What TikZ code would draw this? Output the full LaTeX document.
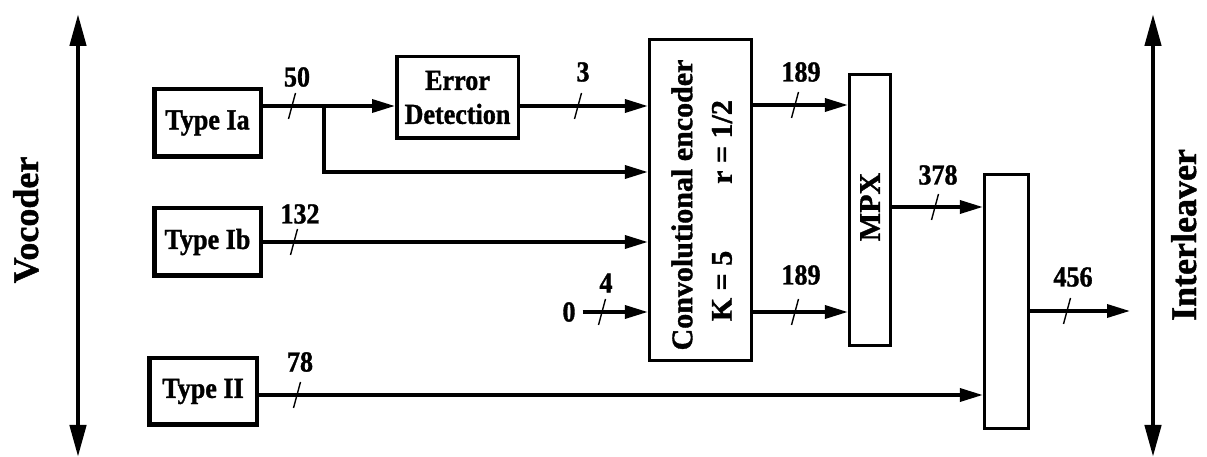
\documentclass[tikz,border=0pt]{standalone}
\usepackage{fontspec}
\setmainfont{Liberation Serif}[FakeStretch=0.9, BoldFeatures={FakeBold=1.2}]
\newfontfamily\rotfont{Liberation Serif}[BoldFeatures={FakeBold=1.2}]
\usetikzlibrary{arrows.meta}
\begin{document}
\begin{tikzpicture}[x=1bp,y=-1bp,
  txt/.style={font=\fontsize{29bp}{34bp}\selectfont\bfseries},
  rtxt/.style={font=\rotfont\fontsize{30bp}{36bp}\selectfont\bfseries, rotate=90, inner sep=0},
  bigtxt/.style={font=\rotfont\fontsize{36bp}{43bp}\selectfont\bfseries, rotate=90, inner sep=0, anchor=base, text depth=0pt},
  typebox/.style={draw, line width=4.5bp, txt, inner sep=0, minimum width=106.5bp, minimum height=67.5bp},
  blk/.style={draw, line width=3.3bp, inner sep=0},
  conn/.style={line width=3.5bp, -{Triangle[length=23bp,width=13bp]}},
  cut/.style={line width=1.4bp},
  num/.style={txt, inner sep=0},
  bus/.style={line width=4.5bp, {Triangle[length=32bp,width=16bp]}-{Triangle[length=32bp,width=16bp]}},
  busmark/.pic={\draw[cut] (-3.5,13) -- (3.5,-13);}
]
\useasboundingbox (0,0) rectangle (1207,457);

% side buses
\coordinate (vt) at (78,14);
\coordinate (vb) at (78,457);
\coordinate (it) at (1153,14);
\coordinate (ib) at (1153,457);
\draw[bus] (vt) -- (vb);
\draw[bus] (it) -- (ib);
\node[bigtxt] (voc) at (38,220) {Vocoder};
\node[bigtxt] (intl) at (1196,235) {Interleaver};

% boxes
\node[typebox] (ia) at (207.5,123) {Type Ia};
\node[typebox] (ib1) at (207.5,242) {Type Ib};
\node[typebox, minimum width=107.5bp, minimum height=66.5bp] (ii) at (203,391.5) {Type II};
\node[draw, line width=3.5bp, txt, inner sep=0, align=center, minimum width=121.5bp, minimum height=81.5bp] (ed) at (457.5,97.5) {Error\\Detection};
\node[blk, minimum width=102bp, minimum height=321bp] (conv) at (700.5,200) {};
\node[rtxt] (convt) at (682,205) {Convolutional encoder};
\node[rtxt] (convk) at (722,286) {K = 5};
\node[rtxt] (convr) at (722,142) {r = 1/2};
\node[blk, minimum width=41bp, minimum height=271bp] (mpx) at (870,210) {};
\node[rtxt] (mpxt) at (870,207) {MPX};
\node[blk, minimum width=44bp, minimum height=254bp] (comb) at (1006.5,301.5) {};
\node[txt, inner xsep=7bp, inner ysep=0] (zero) at (569,312) {0};
\coordinate (out) at (1130,311);
\coordinate (br) at (324,106);

% connectors
\draw[conn] (ia.east |- br) -- (ed.west |- br);
\draw[conn] (br) |- (conv.west |- 0,172);
\draw[conn] (ed.east |- br) -- (conv.west |- br);
\draw[conn] (ib1.east) -- (conv.west |- ib1.east);
\draw[conn] (zero.east) -- (conv.west |- zero.east);
\draw[conn] (conv.east |- 0,105) -- (mpx.west |- 0,105);
\draw[conn] (conv.east |- 0,312) -- (mpx.west |- 0,312);
\draw[conn] (mpx.east |- 0,207) -- (comb.west |- 0,207);
\draw[conn] (ii.east |- 0,395) -- (comb.west |- 0,395);
\draw[conn] (comb.east |- out) -- (out);

% bus widths
\pic at (292,106) {busmark};
\node[num] (n50) at (297,77) {50};
\pic at (578,106) {busmark};
\node[num] (n3) at (583,72) {3};
\pic at (294,242) {busmark};
\node[num] (n132) at (300,214) {132};
\pic at (602,312) {busmark};
\node[num] (n4) at (606,283) {4};
\pic at (795,105) {busmark};
\node[num] (n189a) at (801,72) {189};
\pic at (795,312) {busmark};
\node[num] (n189b) at (801,275) {189};
\pic at (935,207) {busmark};
\node[num] (n378) at (938,175) {378};
\pic at (297,395) {busmark};
\node[num] (n78) at (300,362) {78};
\pic at (1067,311) {busmark};
\node[num] (n456) at (1073,277) {456};
\end{tikzpicture}
\end{document}
